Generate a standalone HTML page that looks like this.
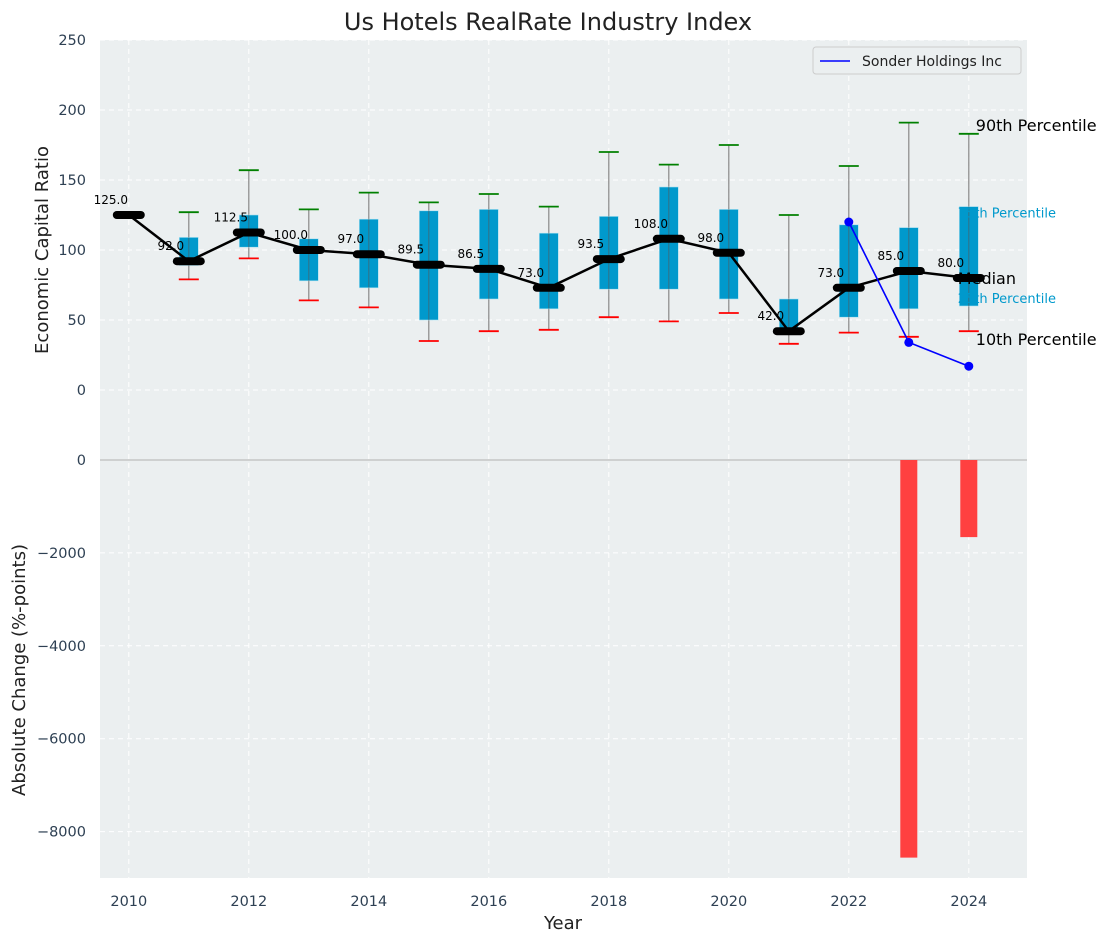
<!DOCTYPE html>
<html><head><meta charset="utf-8"><style>
body{margin:0;background:#fff;font-family:"Liberation Sans","DejaVu Sans",sans-serif}
svg text{font-family:"DejaVu Sans","Liberation Sans",sans-serif}
</style></head><body>
<svg id="chart" width="1111" height="942" xmlns="http://www.w3.org/2000/svg"></svg>
<script>
const years=[2010,2011,2012,2013,2014,2015,2016,2017,2018,2019,2020,2021,2022,2023,2024];
const p10=[null,79,94,64,59,35,42,43,52,49,55,33,41,38,42];
const p25=[null,89,102,78,73,50,65,58,72,72,65,40,52,58,60];
const medians=[125,92,112.5,100,97,89.5,86.5,73,93.5,108,98,42,73,85,80];
const p75=[null,109,125,108,122,128,129,112,124,145,129,65,118,116,131];
const p90=[null,127,157,129,141,134,140,131,170,161,175,125,160,191,183];
const companyYears=[2022,2023,2024];
const companyValues=[120,34,17];
const changeYears=[2023,2024];
const changeValues=[-8560,-1660];
const topTicks=[0,50,100,150,200,250];
const botTicks=[0,-2000,-4000,-6000,-8000];
const xTicks=[2010,2012,2014,2016,2018,2020,2022,2024];

const svg=document.getElementById('chart');
const NS='http://www.w3.org/2000/svg';
function el(t,a,txt){const e=document.createElementNS(NS,t);for(const k in a)e.setAttribute(k,a[k]);if(txt!==undefined)e.textContent=txt;svg.appendChild(e);return e;}
const L=100,R=1027,T=40,M=460,B=878;
const x=v=>L+(v-2009.52)/(2024.97-2009.52)*(R-L);
const y=v=>390-v*1.4;
const yb=v=>M-v*0.04645;

let e;
e=el('rect',{x:L,y:T,width:R-L,height:M-T,fill:'#ebeff0'});

e=el('rect',{x:L,y:M,width:R-L,height:B-M,fill:'#ebeff0'});

xTicks.forEach(t=>{
  e=el('line',{x1:x(t),x2:x(t),y1:T,y2:B,stroke:'#fff','stroke-dasharray':'5,4','stroke-width':1});
  
  e=el('text',{x:x(t),y:906,'text-anchor':'middle','font-size':14.5,fill:'#2e4053'},t);
  
});
topTicks.forEach(t=>{
  e=el('line',{x1:L,x2:R,y1:y(t),y2:y(t),stroke:'#fff','stroke-dasharray':'5,4'});
  
  e=el('text',{x:86,y:y(t)+5,'text-anchor':'end','font-size':14.5,fill:'#2e4053'},t);
  
});
botTicks.forEach(t=>{
  e=el('line',{x1:L,x2:R,y1:yb(t),y2:yb(t),stroke:'#fff','stroke-dasharray':'5,4'});
  
  e=el('text',{x:86,y:yb(t)+5,'text-anchor':'end','font-size':14.5,fill:'#2e4053'},t===0?'0':'\u2212'+Math.abs(t));
  
});
e=el('line',{x1:L,x2:R,y1:M,y2:M,stroke:'#b0b0b0','stroke-width':1});


years.forEach((yr,i)=>{
  const cx=x(yr);
  if(p90[i]!==null){
    e=el('line',{x1:cx,x2:cx,y1:y(p90[i]),y2:y(p10[i]),stroke:'#888','stroke-width':1.2});
    
    e=el('rect',{x:cx-9.5,y:y(p75[i]),width:19,height:y(p25[i])-y(p75[i]),fill:'#0099cc',stroke:'#a8dff0','stroke-width':0.6});
    
    e=el('line',{x1:cx,x2:cx,y1:y(p75[i]),y2:y(p25[i]),stroke:'#555','stroke-width':1,opacity:0.6});
    
    e=el('line',{x1:cx-10,x2:cx+10,y1:y(p90[i]),y2:y(p90[i]),stroke:'#008000','stroke-width':1.8});
    
    e=el('line',{x1:cx-10,x2:cx+10,y1:y(p10[i]),y2:y(p10[i]),stroke:'#ff0000','stroke-width':1.8});
    
  }
});
e=el('polyline',{points:years.map((yr,i)=>x(yr)+','+y(medians[i])).join(' '),fill:'none',stroke:'#000','stroke-width':2.5});

years.forEach((yr,i)=>{
  const cx=x(yr);
  e=el('line',{x1:cx-12,x2:cx+12,y1:y(medians[i]),y2:y(medians[i]),stroke:'#000','stroke-width':8,'stroke-linecap':'round'});
  
  e=el('text',{x:cx-18,y:y(medians[i])-11,'text-anchor':'middle','font-size':12,fill:'#000'},medians[i].toFixed(1));
  
});
e=el('polyline',{points:companyYears.map((yr,i)=>x(yr)+','+y(companyValues[i])).join(' '),fill:'none',stroke:'#0000ff','stroke-width':1.6});

companyYears.forEach((yr,i)=>{
  e=el('circle',{cx:x(yr),cy:y(companyValues[i]),r:4.5,fill:'#0000ff'});
  
});
changeYears.forEach((yr,i)=>{
  const v=changeValues[i];
  e=el('rect',{x:x(yr)-8.5,y:M,width:17,height:yb(v)-M,fill:'#ff4040'});
  
});
const ax=x(2024);
[['90th Percentile',ax+7,y(183)-3,16,'#000'],['75th Percentile',ax-11,y(131)+11,13,'#0099cc'],['Median',ax-11,y(80)+6,16,'#000'],['25th Percentile',ax-11,y(60)-3,13,'#0099cc'],['10th Percentile',ax+7,y(42)+14,16,'#000']].forEach(a=>{
  e=el('text',{x:a[1],y:a[2],'font-size':a[3],fill:a[4]},a[0]);
  
});
e=el('text',{x:548,y:30,'text-anchor':'middle','font-size':24,fill:'#222'},'Us Hotels RealRate Industry Index');

e=el('text',{x:563,y:929,'text-anchor':'middle','font-size':18,fill:'#222'},'Year');

e=el('text',{x:0,y:0,'text-anchor':'middle','font-size':18,fill:'#222',transform:'translate(48,250) rotate(-90)'},'Economic Capital Ratio');

e=el('text',{x:0,y:0,'text-anchor':'middle','font-size':18,fill:'#222',transform:'translate(25,670) rotate(-90)'},'Absolute Change (%-points)');

e=el('rect',{x:813,y:47,width:208,height:27,fill:'#ebeff0',stroke:'#ccc',rx:3});

e=el('line',{x1:820,x2:850,y1:61,y2:61,stroke:'#0000ff','stroke-width':1.6});

e=el('text',{x:862,y:66,'font-size':14,fill:'#222'},'Sonder Holdings Inc');

</script>
</body></html>
